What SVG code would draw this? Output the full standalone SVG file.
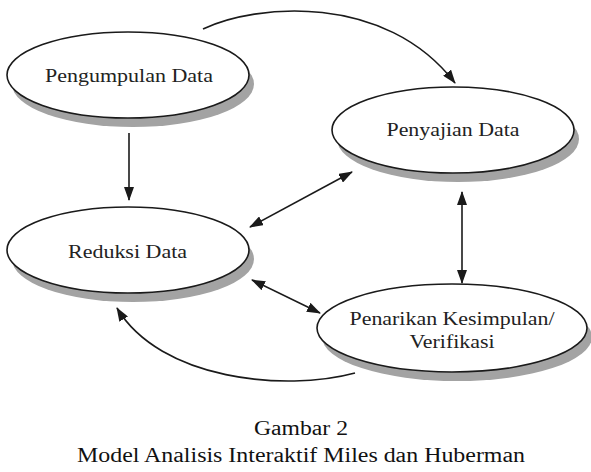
<svg xmlns="http://www.w3.org/2000/svg" width="591" height="472" viewBox="0 0 591 472">
<style>
.sh{fill:#a3a3a3;stroke:none}
.el{fill:#fff;stroke:#1a1a1a;stroke-width:1.6}
.t{font-family:"Liberation Serif","Times New Roman",serif;font-size:18px;fill:#222;text-anchor:middle}
.c{font-family:"Liberation Serif","Times New Roman",serif;font-size:20px;fill:#111;text-anchor:middle}
.ln{fill:none;stroke:#1a1a1a;stroke-width:1.6}
</style>
<defs>
<marker id="ah" markerWidth="14" markerHeight="10" refX="13" refY="5" orient="auto-start-reverse" markerUnits="userSpaceOnUse">
<path d="M0,0 L14,5 L0,10 Z" fill="#1a1a1a"/>
</marker>
</defs>
<rect width="591" height="472" fill="#fff"/>
<g id="connectors">
<path class="ln" d="M203,29 C255,4 385,-8 455,83" marker-end="url(#ah)"/>
<path class="ln" d="M129,133 L129,200" marker-end="url(#ah)"/>
<path class="ln" d="M250,227 L352,172" marker-start="url(#ah)" marker-end="url(#ah)"/>
<path class="ln" d="M462,192 L462,283" marker-start="url(#ah)" marker-end="url(#ah)"/>
<path class="ln" d="M252,280 L320,313" marker-start="url(#ah)" marker-end="url(#ah)"/>
<path class="ln" d="M355,373 C285,392 160,380 117,308" marker-end="url(#ah)"/>
</g>
<g id="pengumpulan">
<ellipse class="sh" cx="133" cy="84" rx="121" ry="43"/>
<ellipse class="el" cx="128" cy="75" rx="121" ry="43"/>
<text class="t" x="129" y="82" textLength="168" lengthAdjust="spacingAndGlyphs">Pengumpulan Data</text>
</g>
<g id="penyajian">
<ellipse class="sh" cx="458" cy="139" rx="121" ry="43"/>
<ellipse class="el" cx="453" cy="130" rx="121" ry="43"/>
<text class="t" x="453" y="136" textLength="133" lengthAdjust="spacingAndGlyphs">Penyajian Data</text>
</g>
<g id="reduksi">
<ellipse class="sh" cx="133" cy="259" rx="121" ry="43"/>
<ellipse class="el" cx="128" cy="250" rx="121" ry="43"/>
<text class="t" x="127.5" y="258" textLength="119" lengthAdjust="spacingAndGlyphs">Reduksi Data</text>
</g>
<g id="penarikan">
<ellipse class="sh" cx="457" cy="337" rx="135" ry="44"/>
<ellipse class="el" cx="452" cy="328" rx="135" ry="44"/>
<text class="t" x="452" y="325" textLength="205" lengthAdjust="spacingAndGlyphs">Penarikan Kesimpulan/</text>
<text class="t" x="452" y="348" textLength="85" lengthAdjust="spacingAndGlyphs">Verifikasi</text>
</g>
<g id="caption">
<text class="c" x="301" y="435" textLength="94" lengthAdjust="spacingAndGlyphs">Gambar 2</text>
<text class="c" x="301" y="462" textLength="448" lengthAdjust="spacingAndGlyphs">Model Analisis Interaktif Miles dan Huberman</text>
</g>
</svg>
